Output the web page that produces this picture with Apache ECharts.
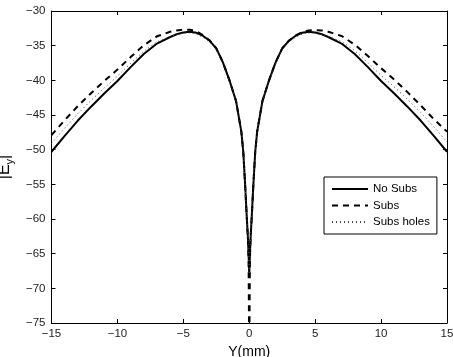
<!DOCTYPE html>
<html>
<head>
<meta charset="utf-8">
<script src="https://cdn.jsdelivr.net/npm/echarts@6/dist/echarts.min.js"></script>
<style>
  html, body { margin: 0; padding: 0; background: #fff; }
  #chartmain1 { width: 453px; height: 357px; }
</style>
</head>
<body>
<div id="chartmain1"></div>
<script>
// Y(mm) positions
var yPos = [-15, -14, -13, -12, -11, -10, -9, -8, -7, -6, -5.5, -5, -4.5, -4, -3.5, -3, -2.5, -2, -1.5, -1.25, -1, -0.8, -0.6, -0.45, -0.3, -0.2, -0.1, -0.05,
    0,
    0.05, 0.1, 0.2, 0.3, 0.45, 0.6, 0.8, 1, 1.25, 1.5, 2, 2.5, 3, 3.5, 4, 4.5, 5, 5.5, 6, 7, 8, 9, 10, 11, 12, 13, 14, 15];

var noSubs = [-50.3, -48.0, -45.8, -43.8, -41.9, -40.1, -38.1, -36.2, -34.7, -33.75, -33.35, -33.1, -33.0, -33.15, -33.6, -34.3, -35.4, -37.4, -40.0, -41.5, -43.0, -45.2, -47.4, -50.4, -55.5, -59.3, -62.8, -65.2,
    -68,
    -65.2, -62.8, -59.3, -55.5, -50.4, -47.4, -45.2, -43.0, -41.5, -40.0, -37.4, -35.4, -34.3, -33.6, -33.15, -33.0, -33.1, -33.35, -33.75, -34.7, -36.2, -38.1, -40.1, -41.9, -43.8, -45.8, -48.0, -50.3];

var subs = [-47.9, -45.75, -43.7, -41.85, -40.1, -38.45, -36.65, -34.95, -33.65, -33.0, -32.8, -32.7, -32.7, -32.95, -33.5, -34.25, -35.4, -37.4, -40.0, -41.5, -43.0, -45.2, -47.4, -50.4, -55.5, -59.3, -62.8, -66,
    -80,
    -66, -62.8, -59.3, -55.5, -50.4, -47.4, -45.2, -43.0, -41.5, -40.0, -37.4, -35.4, -34.3, -33.55, -33.05, -32.8, -32.75, -32.8, -33.0, -33.6, -34.85, -36.5, -38.25, -39.9, -41.7, -43.6, -45.6, -47.4];

var subsHoles = [-49.1, -46.9, -44.8, -42.9, -41.1, -39.4, -37.55, -35.8, -34.45, -33.7, -33.4, -33.2, -33.15, -33.35, -33.8, -34.5, -35.6, -37.6, -40.1, -41.5, -43.0, -45.2, -47.4, -50.4, -55.5, -59.3, -62.8, -65.2,
    -68,
    -65.2, -62.8, -59.3, -55.5, -50.4, -47.4, -45.2, -43.0, -41.5, -40.1, -37.6, -35.6, -34.5, -33.8, -33.35, -33.15, -33.2, -33.4, -33.7, -34.4, -35.7, -37.45, -39.3, -40.95, -42.75, -44.6, -46.7, -48.9];

var seriesNames = ['No Subs', 'Subs', 'Subs holes'];

function pairs(ys) {
    return yPos.map(function (x, i) { return [x, ys[i]]; });
}
function minus(v) {
    return String(v).replace('-', '\u2212');
}

var myChart = echarts.init(document.getElementById('chartmain1'));
var font = 'Liberation Sans, Arial, sans-serif';
var axisCommon = {
    axisLine: { show: true, onZero: false, lineStyle: { color: '#000', width: 1 } },
    axisTick: { show: true, inside: true, length: 4, lineStyle: { color: '#000' } },
    splitLine: { show: false }
};
var option = {
    animation: false,
    backgroundColor: '#fff',
    textStyle: { fontFamily: font },
    grid: { left: 51.5, right: 6, top: 11, bottom: 34, containLabel: false, outerBoundsMode: 'none' },
    legend: {
        data: seriesNames,
        orient: 'vertical',
        left: 324,
        top: 177,
        padding: [6, 7, 6, 7],
        itemWidth: 36,
        itemHeight: 12,
        itemGap: 4.5,
        backgroundColor: '#fff',
        borderColor: '#000',
        borderWidth: 1,
        borderRadius: 0,
        itemStyle: { opacity: 0 },
        textStyle: { fontSize: 11.5, color: '#000', fontFamily: font }
    },
    xAxis: [
        Object.assign({
            type: 'value', min: -15, max: 15, interval: 5, position: 'bottom',
            name: 'Y(mm)', nameLocation: 'middle', nameGap: 18,
            nameTextStyle: { fontSize: 14, color: '#000', fontFamily: font },
            axisLabel: { fontSize: 11.5, color: '#222', margin: 5, formatter: minus }
        }, axisCommon),
        Object.assign({
            type: 'value', min: -15, max: 15, interval: 5, position: 'top',
            axisLabel: { show: false }
        }, axisCommon)
    ],
    yAxis: [
        Object.assign({
            type: 'value', min: -75, max: -30, interval: 5, position: 'left',
            name: '{n||E}{s|y}{n||}', nameLocation: 'middle', nameGap: 31, nameRotate: 90,
            nameTextStyle: {
                color: '#000', fontFamily: font,
                rich: {
                    n: { fontSize: 16, color: '#000', fontFamily: font },
                    s: { fontSize: 11, color: '#000', fontFamily: font, padding: [10, 0, 0, 0] }
                }
            },
            axisLabel: { fontSize: 11.5, color: '#222', margin: 6, formatter: minus }
        }, axisCommon),
        Object.assign({
            type: 'value', min: -75, max: -30, interval: 5, position: 'right',
            axisLabel: { show: false }
        }, axisCommon)
    ],
    series: [
        {
            name: seriesNames[0], type: 'line', data: pairs(noSubs),
            symbol: 'none', clip: true,
            lineStyle: { color: '#000', width: 2, type: 'solid' },
            itemStyle: { color: '#000' }
        },
        {
            name: seriesNames[1], type: 'line', data: pairs(subs),
            symbol: 'none', clip: true,
            lineStyle: { color: '#000', width: 2, type: [6, 5] },
            itemStyle: { color: '#000' }
        },
        {
            name: seriesNames[2], type: 'line', data: pairs(subsHoles),
            symbol: 'none', clip: true,
            lineStyle: { color: '#444', width: 1, type: [1, 3] },
            itemStyle: { color: '#444' }
        }
    ]
};
myChart.setOption(option);
</script>
</body>
</html>
